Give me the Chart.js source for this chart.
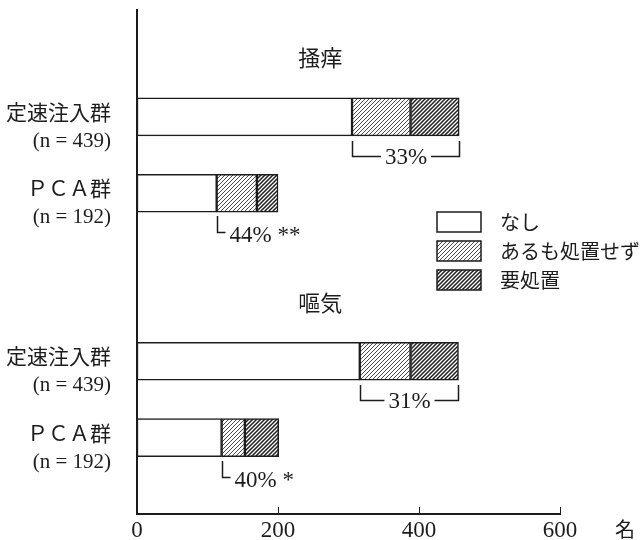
<!DOCTYPE html>
<html>
<head>
<meta charset="utf-8">
<script src="https://cdn.jsdelivr.net/npm/chart.js@4.4.1/dist/chart.umd.min.js"></script>
<style>
  html, body { margin: 0; padding: 0; background: #fff; }
  #wrap { width: 643px; height: 540px; }
</style>
</head>
<body>
<div id="wrap"><canvas id="chart" width="643" height="540"></canvas></div>
<script>
// DATA
const groups = ['掻痒', '嘔気'];
const rowLabels = [
  ['定速注入群', '(n = 439)'],
  ['ＰＣＡ群', '(n = 192)'],
  ['定速注入群', '(n = 439)'],
  ['ＰＣＡ群', '(n = 192)']
];
const seriesNames = ['なし', 'あるも処置せず', '要処置'];
const noneVals = [305, 113, 316, 120];
const untreatedVals = [83, 57, 72, 33];
const treatedVals = [69, 30, 68, 48];
const pctLabels = ['33%', '44% **', '31%', '40% *'];
const xTicks = [0, 200, 400, 600];
const unitLabel = '名';

// LAYOUT (slots on the category axis, rows sit on some of them)
const SLOTS = 34;
const rowSlot = [7, 12, 23, 28];
const INK = '#1c1c1c';
const SERIF = '"Liberation Serif", "Noto Sans CJK JP", serif';
const JP = '"Noto Sans CJK JP", sans-serif';

const labels = Array(SLOTS).fill('');
rowSlot.forEach((s, i) => labels[s] = rowLabels[i]);
function spread(vals) {
  const arr = Array(SLOTS).fill(null);
  rowSlot.forEach((s, i) => arr[s] = vals[i]);
  return arr;
}

// hatch patterns
function hatch(size, width) {
  const c = document.createElement('canvas');
  c.width = size; c.height = size;
  const g = c.getContext('2d');
  g.fillStyle = '#fff'; g.fillRect(0, 0, size, size);
  g.strokeStyle = INK; g.lineWidth = width;
  g.beginPath();
  g.moveTo(0, size); g.lineTo(size, 0);
  g.moveTo(-1, 1); g.lineTo(1, -1);
  g.moveTo(size - 1, size + 1); g.lineTo(size + 1, size - 1);
  g.stroke();
  return g.createPattern(c, 'repeat');
}
const fills = ['#ffffff', hatch(4, 0.8), hatch(4, 1.5)];

const annot = {
  id: 'annot',
  afterDraw(chart) {
    const {ctx, scales: {x, y}} = chart;
    ctx.save();
    ctx.fillStyle = INK; ctx.strokeStyle = INK;

    // group titles
    ctx.font = '22px ' + JP;
    ctx.textAlign = 'center'; ctx.textBaseline = 'middle';
    groups.forEach((g, i) => ctx.fillText(g, x.getPixelForValue(260), y.getPixelForValue(rowSlot[i * 2]) - 59));

    // brackets under the hatched part
    const midMeta = chart.getDatasetMeta(1), topMeta = chart.getDatasetMeta(2);
    ctx.lineWidth = 1.5;
    ctx.font = '23px ' + SERIF;
    rowSlot.forEach((s, i) => {
      const a = midMeta.data[s], b = topMeta.data[s];
      const x1 = Math.round(a.base) + 0.5, x2 = Math.round(b.x) + 0.5;
      const yb = Math.round(a.y + a.height / 2);
      const txt = pctLabels[i];
      if (i % 2 === 0) {
        const mid = (x1 + x2) / 2, tw = ctx.measureText(txt).width;
        ctx.beginPath();
        ctx.moveTo(x1, yb + 5); ctx.lineTo(x1, yb + 20.5); ctx.lineTo(mid - tw / 2 - 4, yb + 20.5);
        ctx.moveTo(x2, yb + 5); ctx.lineTo(x2, yb + 20.5); ctx.lineTo(mid + tw / 2 + 4, yb + 20.5);
        ctx.stroke();
        ctx.textAlign = 'center';
        ctx.fillText(txt, mid, yb + 22);
      } else {
        ctx.beginPath();
        ctx.moveTo(x1, yb + 4); ctx.lineTo(x1, yb + 20.5); ctx.lineTo(x1 + 8, yb + 20.5);
        ctx.stroke();
        ctx.textAlign = 'left';
        ctx.fillText(txt, x1 + 12, yb + 24);
      }
    });

    // inward tick marks on the x axis
    ctx.lineWidth = 1;
    ctx.beginPath();
    xTicks.slice(1).forEach(v => {
      const px = Math.round(x.getPixelForValue(v)) + 0.5;
      ctx.moveTo(px, x.top); ctx.lineTo(px, x.top - 7);
    });
    ctx.stroke();

    // unit
    ctx.font = '20px ' + JP;
    ctx.textAlign = 'center';
    ctx.fillText(unitLabel, x.getPixelForValue(600) + 65, x.top + 15);

    // legend
    ctx.lineWidth = 1.5;
    ctx.font = '20px ' + JP;
    ctx.textAlign = 'left';
    seriesNames.forEach((name, i) => {
      const top = 212 + i * 29;
      ctx.fillStyle = fills[i];
      ctx.fillRect(437, top, 44, 20);
      ctx.strokeRect(437, top, 44, 20);
      ctx.fillStyle = INK;
      ctx.fillText(name, 500, top + 10);
    });
    ctx.restore();
  }
};

new Chart(document.getElementById('chart'), {
  type: 'bar',
  data: {
    labels,
    datasets: [noneVals, untreatedVals, treatedVals].map((vals, i) => ({
      label: seriesNames[i],
      data: spread(vals),
      backgroundColor: fills[i],
      borderColor: INK,
      borderWidth: 1.5,
      borderSkipped: false,
      barThickness: 38
    }))
  },
  options: {
    indexAxis: 'y',
    responsive: false,
    animation: false,
    devicePixelRatio: 1,
    layout: { padding: { top: 10, right: 83, left: 0, bottom: 0 } },
    plugins: { legend: { display: false }, tooltip: { enabled: false } },
    scales: {
      x: {
        stacked: true,
        min: 0, max: 600,
        afterBuildTicks: s => { s.ticks = xTicks.map(v => ({ value: v })); },
        afterFit: s => { s.height = 26; s.paddingLeft = 0; s.paddingRight = 0; },
        grid: { display: false, drawTicks: false },
        border: { display: true, color: INK, width: 2 },
        ticks: { color: INK, padding: 3, font: { family: SERIF, size: 23 } }
      },
      y: {
        stacked: true,
        offset: false,
        afterFit: s => { s.width = 137; s.paddingTop = 0; s.paddingBottom = 0; },
        grid: { display: false, drawTicks: false },
        border: { display: true, color: INK, width: 2 },
        ticks: {
          autoSkip: false,
          color: INK,
          padding: 26,
          crossAlign: 'near',
          labelOffset: 11,
          font: { family: SERIF, size: 21, lineHeight: 1.3 }
        }
      }
    }
  },
  plugins: [annot]
});
</script>
</body>
</html>
